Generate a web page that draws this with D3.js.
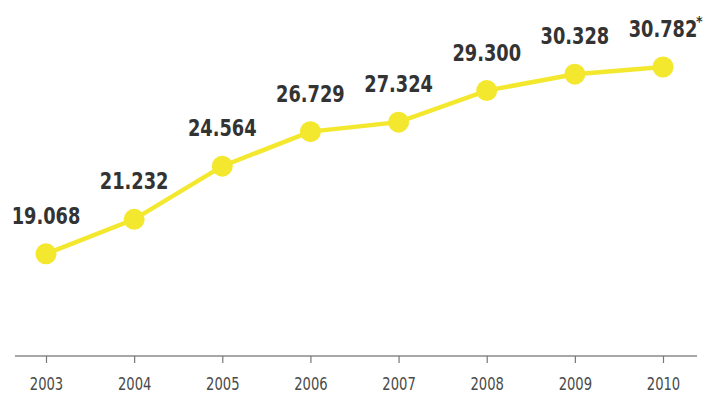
<!DOCTYPE html>
<html><head><meta charset="utf-8">
<script src="https://cdn.jsdelivr.net/npm/d3@7"></script>
<style>body{margin:0;background:#fff}svg{display:block}</style>
</head><body>
<svg id="chart" width="706" height="395"></svg>
<script>
const years = ["2003","2004","2005","2006","2007","2008","2009","2010"];
const values = [19.068, 21.232, 24.564, 26.729, 27.324, 29.300, 30.328, 30.782];
const valueLabels = ["19.068","21.232","24.564","26.729","27.324","29.300","30.328","30.782"];
const notes = ["","","","","","","","*"];

const svg = d3.select("#chart");
const x = d3.scalePoint().domain(years).range([46, 663]);
const y = d3.scaleLinear().domain([12.73, 33.85]).range([355, 18]);

const fam = "'DejaVu Sans Condensed','DejaVu Sans',sans-serif";

// axis
const axis = d3.axisBottom(x).tickSize(7).tickPadding(10);
const gx = svg.append("g").attr("transform","translate(0,356)").call(axis);
gx.select(".domain").attr("d","M15,0H697").attr("stroke","#8a8a8a").attr("stroke-width",1.3);
gx.selectAll(".tick line").attr("stroke","#777").attr("stroke-width",1.2);
gx.selectAll(".tick text").attr("fill","#4a4a4a")
  .attr("y", 34).attr("dy", null)
  .attr("transform","scale(0.86,1)")
  .style("font-family",fam)
  .style("font-size","17px");

const pts = years.map((yr,i)=>({yr, v: values[i], lab: valueLabels[i], note: notes[i]}));

svg.append("path").datum(pts)
  .attr("fill","none").attr("stroke","#f3e82e").attr("stroke-width",4.5)
  .attr("d", d3.line().x(d=>x(d.yr)).y(d=>y(d.v)));

svg.selectAll("circle.pt").data(pts).join("circle").attr("class","pt")
  .attr("cx",d=>x(d.yr)).attr("cy",d=>y(d.v)).attr("r",10.5)
  .attr("fill","#f3e82e");

const lg = svg.selectAll("g.val").data(pts).join("g").attr("class","val")
  .attr("transform",d=>`translate(${x(d.yr)},${y(d.v)-30})`);
lg.append("text")
  .attr("text-anchor","middle")
  .attr("transform","scale(0.86,1)")
  .attr("fill","#333")
  .style("font-family",fam)
  .style("font-weight","bold").style("font-size","23px")
  .text(d=>d.lab);
lg.filter(d=>d.note).append("text")
  .attr("x", 33).attr("y", -11)
  .attr("fill","#333")
  .style("font-family",fam)
  .style("font-weight","bold").style("font-size","14px")
  .text(d=>d.note);
</script>
</body></html>
